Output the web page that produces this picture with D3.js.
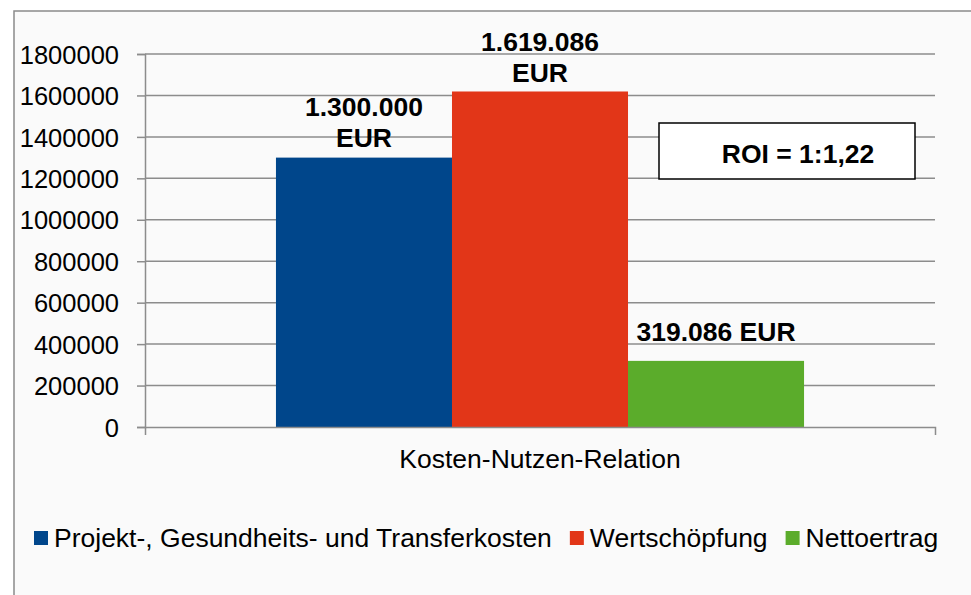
<!DOCTYPE html>
<html>
<head>
<meta charset="utf-8">
<script src="https://cdn.jsdelivr.net/npm/d3@7"></script>
<style>
  body { margin: 0; background: #fff; }
  svg { display: block; font-family: "Liberation Sans", Arial, sans-serif; }
</style>
</head>
<body>
<svg id="chart" width="971" height="595"></svg>
<script>
// chart data
var categories = ["Kosten-Nutzen-Relation"];
var seriesNames = ["Projekt-, Gesundheits- und Transferkosten", "Wertschöpfung", "Nettoertrag"];
var seriesValues = [1300000, 1619086, 319086];
var seriesColors = ["#00468b", "#e23618", "#5bac2b"];
var valueLabels = [["1.300.000", "EUR"], ["1.619.086", "EUR"], ["319.086 EUR"]];
var yTicks = [0, 200000, 400000, 600000, 800000, 1000000, 1200000, 1400000, 1600000, 1800000];
var roiText = "ROI = 1:1,22";

var fontSize = 26.5;
var svg = d3.select("#chart");

// outer frame
svg.append("rect").attr("x", 14).attr("y", 11).attr("width", 971).attr("height", 600)
  .attr("fill", "#fafafa").attr("stroke", "#8a8a8a").attr("stroke-width", 1.5);

var plotLeft = 145, plotRight = 935, plotTop = 54, plotBottom = 427;

var y = d3.scaleLinear().domain([0, 1800000]).range([plotBottom, plotTop]);
var x = d3.scaleBand().domain(categories).range([plotLeft, plotRight]).paddingInner(0).paddingOuter(0.248);
var xs = d3.scaleBand().domain(seriesNames).range([0, x.bandwidth()]);

// gridlines
svg.append("g").selectAll("line").data(yTicks.slice(1)).enter().append("line")
  .attr("x1", plotLeft).attr("x2", plotRight)
  .attr("y1", function(d) { return y(d); }).attr("y2", function(d) { return y(d); })
  .attr("stroke", "#8c8c8c").attr("stroke-width", 1.5);

// bars
var g = svg.append("g");
g.selectAll("rect").data(seriesValues).enter().append("rect")
  .attr("x", function(d, i) { return x(categories[0]) + xs(seriesNames[i]); })
  .attr("y", function(d) { return y(d); })
  .attr("width", xs.bandwidth())
  .attr("height", function(d) { return plotBottom - y(d); })
  .attr("fill", function(d, i) { return seriesColors[i]; });

// y axis
var yAxis = svg.append("g").attr("transform", "translate(" + plotLeft + ",0)")
  .call(d3.axisLeft(y).tickValues(yTicks).tickFormat(d3.format("d")).tickSize(8).tickPadding(18));
yAxis.select(".domain").attr("stroke", "#8c8c8c").attr("stroke-width", 1.5);
yAxis.selectAll(".tick line").attr("stroke", "#8c8c8c").attr("stroke-width", 1.5);
yAxis.selectAll("text").attr("font-size", 25.5).attr("fill", "#000")
  .attr("font-family", "Liberation Sans, Arial, sans-serif").attr("dy", "0.36em");

// x axis
var xAxis = svg.append("g").attr("transform", "translate(0," + plotBottom + ")")
  .call(d3.axisBottom(x).tickSizeInner(0).tickSizeOuter(8).tickPadding(22));
xAxis.select(".domain").attr("stroke", "#8c8c8c").attr("stroke-width", 1.5);
xAxis.selectAll(".tick line").remove();
xAxis.selectAll("text").attr("font-size", fontSize).attr("fill", "#000")
  .attr("font-family", "Liberation Sans, Arial, sans-serif");

// value labels
var labelOffsets = [11, 9, 20];
valueLabels.forEach(function(lines, i) {
  var cx = x(categories[0]) + xs(seriesNames[i]) + xs.bandwidth() / 2;
  var base = y(seriesValues[i]) - labelOffsets[i];
  lines.slice().reverse().forEach(function(t, k) {
    svg.append("text").attr("x", cx).attr("y", base - k * 31)
      .attr("text-anchor", "middle").attr("font-size", fontSize).attr("font-weight", "bold")
      .text(t);
  });
});

// ROI box
svg.append("rect").attr("x", 659).attr("y", 123).attr("width", 256).attr("height", 56)
  .attr("fill", "#fff").attr("stroke", "#000").attr("stroke-width", 1.5);
svg.append("text").attr("x", 798).attr("y", 163).attr("text-anchor", "middle")
  .attr("font-size", fontSize).attr("font-weight", "bold").text(roiText);

// legend
var legend = svg.append("g");
var lx = 34, ly = 547;
seriesNames.forEach(function(name, i) {
  legend.append("rect").attr("x", lx).attr("y", ly - 16).attr("width", 14).attr("height", 14)
    .attr("fill", seriesColors[i]);
  var t = legend.append("text").attr("x", lx + 20).attr("y", ly).attr("font-size", fontSize).text(name);
  lx = lx + 20 + t.node().getComputedTextLength() + 18;
});
</script>
</body>
</html>
